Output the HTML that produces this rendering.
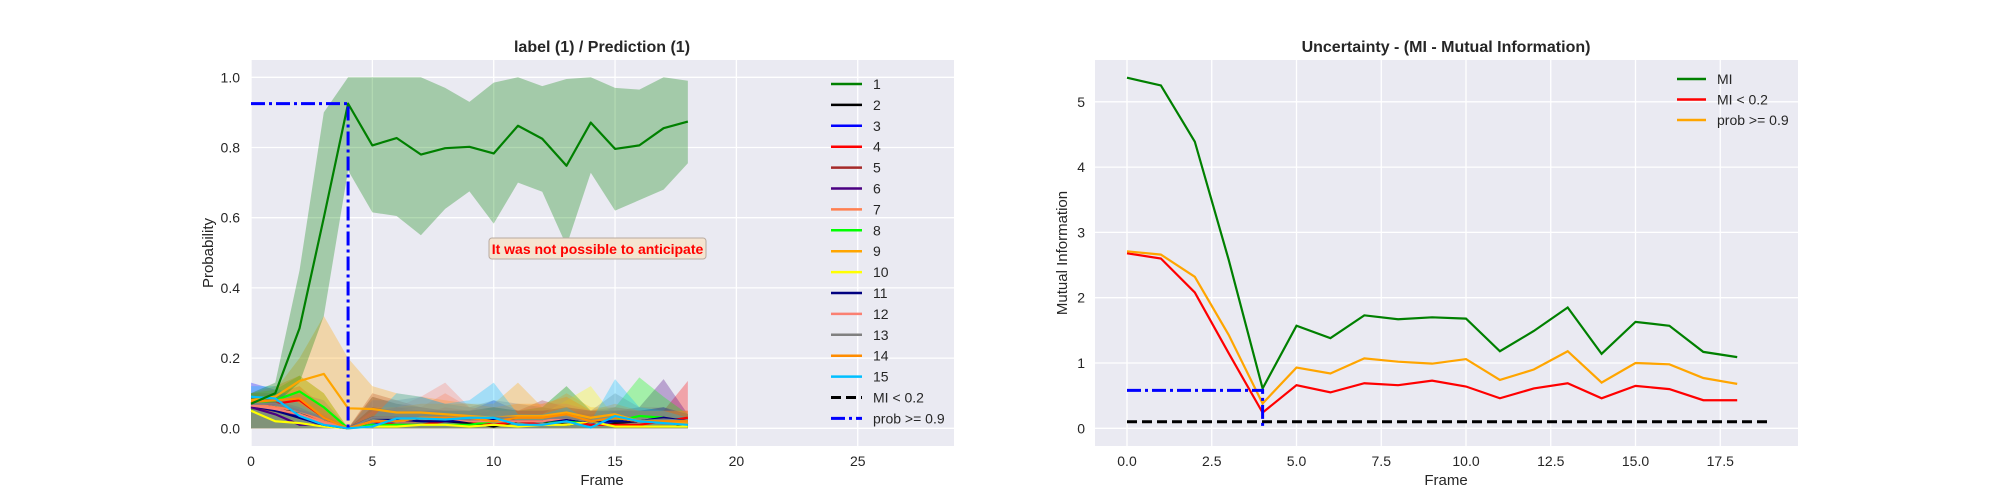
<!DOCTYPE html>
<html><head><meta charset="utf-8"><style>
body{margin:0;background:#fff;}
svg{display:block;font-family:"Liberation Sans",sans-serif;}
</style></head><body>
<svg id="fig" width="2000" height="500" viewBox="0 0 2000 500" xmlns="http://www.w3.org/2000/svg">
<g id="left"></g>
<g id="right"></g>
</svg>
<script>
// ---------- Left chart data ----------
const frames = [0,1,2,3,4,5,6,7,8,9,10,11,12,13,14,15,16,17,18];
const classNames = ["1","2","3","4","5","6","7","8","9","10","11","12","13","14","15"];
const classColors = ["#008000","#000000","#0000ff","#ff0000","#a52a2a","#4b0082","#ff7f50","#00ff00","#ffa500","#ffff00","#000080","#fa8072","#808080","#ff8c00","#00bfff"];
const c1 = [0.07,0.10,0.285,0.60,0.925,0.806,0.827,0.78,0.798,0.802,0.783,0.862,0.825,0.748,0.871,0.796,0.806,0.855,0.874];
const c1Hi = [0.10,0.13,0.45,0.90,1.0,1.0,1.0,1.0,0.97,0.93,0.985,1.0,0.975,0.995,1.0,0.97,0.965,1.0,0.99];
const c1Lo = [0.05,0.07,0.13,0.32,0.735,0.615,0.605,0.55,0.625,0.675,0.583,0.70,0.674,0.52,0.728,0.62,0.65,0.68,0.755];
const c2 = [0.06,0.06,0.04,0.02,0,0.02,0.02,0.02,0.02,0.015,0.005,0.02,0.02,0.01,0.02,0.015,0.02,0.02,0.005];
const c3 = [0.07,0.06,0.03,0.01,0,0.01,0.02,0.02,0.02,0.02,0.02,0.02,0.02,0.02,0.01,0.02,0.02,0.02,0.01];
const c4 = [0.07,0.07,0.08,0.03,0,0.02,0.01,0.01,0.02,0.02,0.01,0.02,0.01,0.02,0.01,0.01,0.01,0.02,0.03];
const c5 = [0.06,0.05,0.04,0.02,0,0.03,0.03,0.02,0.02,0.02,0.02,0.02,0.02,0.02,0.02,0.02,0.02,0.02,0.02];
const c6 = [0.06,0.04,0.01,0.01,0,0.02,0.02,0.02,0.02,0.02,0.02,0.02,0.02,0.02,0.02,0.02,0.02,0.03,0.01];
const c7 = [0.07,0.06,0.05,0.02,0,0.02,0.02,0.02,0.03,0.02,0.02,0.02,0.02,0.02,0.02,0.02,0.02,0.02,0.02];
const c8 = [0.07,0.08,0.105,0.06,0,0.01,0.01,0.01,0.01,0.01,0.02,0.02,0.02,0.02,0.02,0.02,0.035,0.03,0.01];
const c9 = [0.08,0.09,0.135,0.155,0.057,0.055,0.045,0.045,0.04,0.035,0.03,0.035,0.035,0.045,0.03,0.04,0.02,0.02,0.015];
const c10 = [0.05,0.02,0.015,0.005,0,0.005,0.005,0.01,0.01,0.005,0.01,0.005,0.01,0.01,0.02,0.005,0.005,0.005,0.005];
const c11 = [0.065,0.05,0.03,0.01,0,0.03,0.025,0.02,0.02,0.02,0.025,0.02,0.02,0.025,0.02,0.02,0.02,0.03,0.02];
const c12 = [0.065,0.055,0.04,0.015,0,0.02,0.02,0.03,0.03,0.02,0.02,0.02,0.02,0.03,0.02,0.03,0.02,0.02,0.02];
const c13 = [0.07,0.07,0.05,0.03,0,0.03,0.03,0.03,0.03,0.025,0.03,0.03,0.03,0.03,0.02,0.03,0.02,0.025,0.02];
const c14 = [0.075,0.08,0.085,0.03,0,0.02,0.02,0.03,0.03,0.03,0.02,0.03,0.03,0.04,0.02,0.03,0.02,0.02,0.02];
const c15 = [0.09,0.085,0.035,0.01,0,0.005,0.028,0.028,0.025,0.03,0.03,0.01,0.01,0.02,0.002,0.035,0.02,0.015,0.01];
const h2 = [0.08,0.09,0.07,0.04,0,0.09,0.07,0.06,0.05,0.04,0.05,0.05,0.06,0.05,0.04,0.05,0.05,0.05,0.02];
const h3 = [0.13,0.11,0.06,0.03,0,0.04,0.06,0.06,0.05,0.05,0.08,0.05,0.05,0.05,0.04,0.06,0.05,0.06,0.03];
const h4 = [0.10,0.10,0.12,0.06,0,0.05,0.04,0.04,0.06,0.05,0.04,0.05,0.04,0.05,0.04,0.04,0.04,0.05,0.135];
const h5 = [0.09,0.09,0.10,0.06,0,0.10,0.08,0.06,0.05,0.05,0.05,0.05,0.08,0.06,0.05,0.05,0.05,0.05,0.05];
const h6 = [0.09,0.07,0.04,0.03,0,0.05,0.06,0.05,0.05,0.05,0.06,0.05,0.05,0.05,0.05,0.05,0.06,0.14,0.04];
const h7 = [0.10,0.09,0.09,0.05,0,0.05,0.05,0.06,0.10,0.06,0.05,0.05,0.05,0.06,0.05,0.05,0.05,0.05,0.05];
const h8 = [0.10,0.11,0.15,0.10,0,0.04,0.04,0.04,0.05,0.05,0.06,0.05,0.06,0.12,0.05,0.06,0.145,0.09,0.04];
const h9 = [0.10,0.11,0.20,0.32,0.20,0.12,0.10,0.09,0.08,0.07,0.07,0.13,0.06,0.10,0.06,0.06,0.05,0.05,0.04];
const h10 = [0.07,0.04,0.04,0.02,0,0.02,0.02,0.03,0.03,0.03,0.04,0.03,0.04,0.08,0.12,0.03,0.03,0.03,0.02];
const h11 = [0.09,0.08,0.06,0.03,0,0.06,0.05,0.05,0.05,0.05,0.06,0.05,0.05,0.06,0.05,0.05,0.05,0.06,0.04];
const h12 = [0.09,0.09,0.08,0.04,0,0.05,0.06,0.09,0.13,0.06,0.05,0.05,0.07,0.07,0.05,0.06,0.05,0.05,0.05];
const h13 = [0.10,0.10,0.10,0.08,0,0.08,0.08,0.09,0.07,0.06,0.08,0.07,0.06,0.12,0.05,0.10,0.06,0.06,0.04];
const h14 = [0.10,0.12,0.15,0.10,0,0.06,0.06,0.07,0.07,0.07,0.06,0.07,0.07,0.09,0.05,0.07,0.05,0.05,0.05];
const h15 = [0.12,0.12,0.07,0.03,0,0.03,0.10,0.09,0.07,0.08,0.13,0.04,0.04,0.06,0.02,0.14,0.06,0.05,0.03];
const leftXTicks = [0,5,10,15,20,25];
const leftYTicks = [0.0,0.2,0.4,0.6,0.8,1.0];
const probThreshold = 0.925;
const anticipateFrame = 4;

// ---------- Right chart data ----------
const miVals = [5.37,5.25,4.39,2.58,0.61,1.57,1.38,1.73,1.67,1.70,1.68,1.18,1.49,1.85,1.14,1.63,1.57,1.17,1.09];
const probVals = [2.71,2.66,2.32,1.43,0.38,0.93,0.84,1.07,1.02,0.99,1.06,0.74,0.90,1.18,0.70,1.00,0.98,0.77,0.68];
const miLowVals = [2.68,2.60,2.08,1.15,0.24,0.66,0.55,0.69,0.66,0.73,0.64,0.46,0.61,0.69,0.46,0.65,0.60,0.43,0.43];
const miThreshold = 0.1;
const miAtAnticipate = 0.58;
const rightXTicks = [0.0,2.5,5.0,7.5,10.0,12.5,15.0,17.5];
const rightYTicks = [0,1,2,3,4,5];

const NS = "http://www.w3.org/2000/svg";
function mk(parent, tag, attrs, text){
  const e = document.createElementNS(NS, tag);
  for (const k in attrs) e.setAttribute(k, attrs[k]);
  if (text !== undefined) e.textContent = text;
  parent.appendChild(e);
  return e;
}
function pts(xs, ys, fx, fy){ return xs.map((x,i)=>fx(x)+","+fy(ys[i])).join(" "); }

// ===== LEFT =====
const L = document.getElementById('left');
const xL = v => 251 + v*24.27;
const yL = v => 428.3 - v*351;
let bg = mk(L,'rect',{x:251,y:60,width:703,height:386,fill:'#eaeaf2'});


leftXTicks.forEach(t=>{
  mk(L,'line',{x1:xL(t),x2:xL(t),y1:60,y2:446,stroke:'#fff','stroke-width':1.3});
  let tl = mk(L,'text',{x:xL(t),y:466,'font-size':14,'text-anchor':'middle',fill:'#262626'},String(t));
  
  
});
leftYTicks.forEach(t=>{
  mk(L,'line',{x1:251,x2:954,y1:yL(t),y2:yL(t),stroke:'#fff','stroke-width':1.3});
  let tl = mk(L,'text',{x:240,y:yL(t)+5,'font-size':14,'text-anchor':'end',fill:'#262626'},t.toFixed(1));
  
  
});
const means = [c1,c2,c3,c4,c5,c6,c7,c8,c9,c10,c11,c12,c13,c14,c15];
const his = [c1Hi,h2,h3,h4,h5,h6,h7,h8,h9,h10,h11,h12,h13,h14,h15];
for (let k=1;k<15;k++){
  const lo = frames.map(()=>0);
  const poly = pts(frames,his[k],xL,yL)+" "+pts(frames.slice().reverse(),lo,xL,yL);
  let b = mk(L,'polygon',{points:poly,fill:classColors[k],'fill-opacity':0.3,stroke:'none'});
  
  
}
{
  const poly = pts(frames,c1Hi,xL,yL)+" "+pts(frames.slice().reverse(),c1Lo.slice().reverse(),xL,yL);
  let b = mk(L,'polygon',{points:poly,fill:'#008000','fill-opacity':0.3,stroke:'none'});
  
  
}
const drawOrder = [1,2,3,4,5,6,7,8,9,10,11,12,13,14,0];
drawOrder.forEach(k=>{
  let l = mk(L,'polyline',{points:pts(frames,means[k],xL,yL),fill:'none',stroke:classColors[k],'stroke-width':2.2,'stroke-linejoin':'round'});
  
  
});
let pl = mk(L,'polyline',{points:xL(0)+","+yL(probThreshold)+" "+xL(anticipateFrame)+","+yL(probThreshold)+" "+xL(anticipateFrame)+","+yL(0),fill:'none',stroke:'#0000ff','stroke-width':3,'stroke-dasharray':'14,4,3,4'});


let ab = mk(L,'rect',{x:489,y:238,width:217,height:21,rx:3,fill:'#f5e4d0',stroke:'#b8aaa0','stroke-width':1});


let at = mk(L,'text',{x:597.5,y:254,'font-size':14,'font-weight':'bold','text-anchor':'middle',fill:'#ff0000'},'It was not possible to anticipate');


let t1 = mk(L,'text',{x:602,y:52,'font-size':16,'font-weight':'bold','text-anchor':'middle',fill:'#262626'},'label (1) / Prediction (1)');


let xl1 = mk(L,'text',{x:602,y:485,'font-size':15,'text-anchor':'middle',fill:'#262626'},'Frame');


let yl1 = mk(L,'text',{x:213,y:253,'font-size':15,'text-anchor':'middle',fill:'#262626',transform:'rotate(-90 213 253)'},'Probability');


// legend
const legLabels = classNames.concat(["MI < 0.2","prob >= 0.9"]);
legLabels.forEach((lab,i)=>{
  const y = 84 + i*20.9;
  const g = mk(L,'g',{});
  
  
  if (i<15) mk(g,'line',{x1:831,x2:862,y1:y,y2:y,stroke:classColors[i],'stroke-width':2.5});
  else if (i===15) mk(g,'line',{x1:831,x2:862,y1:y,y2:y,stroke:'#000','stroke-width':3,'stroke-dasharray':'10,5'});
  else mk(g,'line',{x1:831,x2:862,y1:y,y2:y,stroke:'#0000ff','stroke-width':3,'stroke-dasharray':'14,4,3,4'});
  mk(g,'text',{x:873,y:y+5,'font-size':14,fill:'#262626'},lab);
});

// ===== RIGHT =====
const R = document.getElementById('right');
const xR = v => 1127 + v*33.9;
const yR = v => 428.3 - v*65.3;
let bg2 = mk(R,'rect',{x:1095,y:60,width:703,height:386,fill:'#eaeaf2'});


rightXTicks.forEach(t=>{
  mk(R,'line',{x1:xR(t),x2:xR(t),y1:60,y2:446,stroke:'#fff','stroke-width':1.3});
  let tl = mk(R,'text',{x:xR(t),y:466,'font-size':14,'text-anchor':'middle',fill:'#262626'},t.toFixed(1));
  
  
});
rightYTicks.forEach(t=>{
  mk(R,'line',{x1:1095,x2:1798,y1:yR(t),y2:yR(t),stroke:'#fff','stroke-width':1.3});
  let tl = mk(R,'text',{x:1085,y:yR(t)+5,'font-size':14,'text-anchor':'end',fill:'#262626'},String(t));
  
  
});
let mline = mk(R,'polyline',{points:pts(frames,miVals,xR,yR),fill:'none',stroke:'#008000','stroke-width':2.2});


let lline = mk(R,'polyline',{points:pts(frames,miLowVals,xR,yR),fill:'none',stroke:'#ff0000','stroke-width':2.2});


let oline = mk(R,'polyline',{points:pts(frames,probVals,xR,yR),fill:'none',stroke:'#ffa500','stroke-width':2.2});


let th = mk(R,'line',{x1:xR(0),x2:xR(19),y1:yR(miThreshold),y2:yR(miThreshold),stroke:'#000','stroke-width':3,'stroke-dasharray':'10,5'});


let pb = mk(R,'polyline',{points:xR(0)+","+yR(miAtAnticipate)+" "+xR(anticipateFrame)+","+yR(miAtAnticipate)+" "+xR(anticipateFrame)+","+yR(0),fill:'none',stroke:'#0000ff','stroke-width':3,'stroke-dasharray':'14,4,3,4'});


let t2 = mk(R,'text',{x:1446,y:52,'font-size':16,'font-weight':'bold','text-anchor':'middle',fill:'#262626'},'Uncertainty - (MI - Mutual Information)');


let xl2 = mk(R,'text',{x:1446,y:485,'font-size':15,'text-anchor':'middle',fill:'#262626'},'Frame');


let yl2 = mk(R,'text',{x:1067,y:253,'font-size':15,'text-anchor':'middle',fill:'#262626',transform:'rotate(-90 1067 253)'},'Mutual Information');


const rLeg = [["MI","#008000"],["MI < 0.2","#ff0000"],["prob >= 0.9","#ffa500"]];
rLeg.forEach((e,i)=>{
  const y = 79 + i*20.5;
  const g = mk(R,'g',{});
  
  
  mk(g,'line',{x1:1677,x2:1706,y1:y,y2:y,stroke:e[1],'stroke-width':2.5});
  mk(g,'text',{x:1717,y:y+5,'font-size':14,fill:'#262626'},e[0]);
});
</script>
</body></html>
